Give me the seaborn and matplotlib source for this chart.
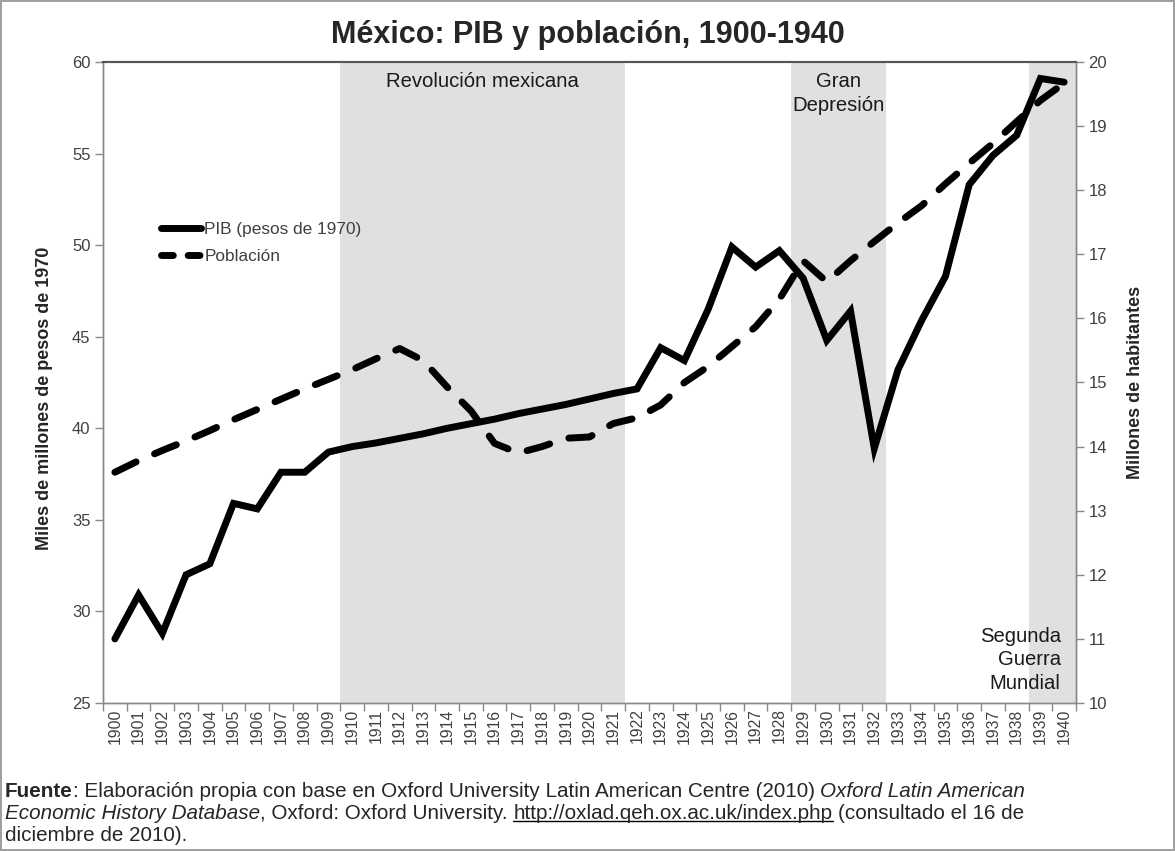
import numpy as np
import pandas as pd
import seaborn as sns
import matplotlib.pyplot as plt
from matplotlib.lines import Line2D
from matplotlib.transforms import IdentityTransform

# Datos
years = list(range(1900, 1941))
pib = [28.5, 30.9, 28.8, 32.0, 32.6, 35.9, 35.6, 37.6, 37.6, 38.7,
       39.0, 39.2, 39.45, 39.7, 40.0, 40.25, 40.5, 40.8, 41.05, 41.3,
       41.6, 41.9, 42.15, 44.4, 43.7, 46.5, 49.9, 48.8, 49.7, 48.2,
       44.8, 46.4, 38.9, 43.2, 45.9, 48.3, 53.3, 54.9, 56.0, 59.1, 58.9]
poblacion = [13.6, 13.78, 13.94, 14.09, 14.25, 14.42, 14.58, 14.74, 14.9, 15.05,
             15.2, 15.37, 15.53, 15.34, 14.93, 14.56, 14.05, 13.9, 14.0, 14.13,
             14.15, 14.36, 14.45, 14.65, 15.0, 15.25, 15.56, 15.87, 16.3, 16.9,
             16.57, 16.9, 17.2, 17.49, 17.76, 18.1, 18.42, 18.73, 19.07, 19.4, 19.67]
periodos = [("Revolución mexicana", 1910, 1921),
            ("Gran\nDepresión", 1929, 1932),
            ("Segunda\nGuerra\nMundial", 1939, 1940)]

df = pd.DataFrame({'year': years, 'pib': pib, 'pob': poblacion})

sns.set_style("white")
plt.rcParams['font.family'] = ['Liberation Sans', 'DejaVu Sans']

W, H = 1175, 851
fig = plt.figure(figsize=(W / 100, H / 100), dpi=100, edgecolor='#a0a0a0', linewidth=1.5)
ax = fig.add_axes([103 / W, 1 - 703 / H, 973 / W, 641 / H])
ax2 = ax.twinx()

# franjas de periodos
for nombre, ini, fin in periodos:
    ax.axvspan(ini - 0.5, fin + 0.5, color='#e0e0e0', lw=0, zorder=0)

sns.lineplot(data=df, x='year', y='pib', ax=ax, color='black', lw=5)
sns.lineplot(data=df, x='year', y='pob', ax=ax2, color='black', lw=5)
l1 = ax.lines[-1]
l1.set_solid_capstyle('round')
l1.set_solid_joinstyle('miter')
l2 = ax2.lines[-1]
l2.set_dashes((3.4, 2.9))
l2.set_dash_capstyle('round')
l2.set_dash_joinstyle('round')

ax.set_xlim(1899.5, 1940.5)
ax.set_ylim(25, 60)
ax2.set_ylim(10, 20)
ax.set_xticks(years)
ax.set_xticklabels([str(y) for y in years], rotation=90)
ax.set_xticks(np.arange(1899.5, 1941), minor=True)
ax.set_yticks(range(25, 61, 5))
ax2.set_yticks(range(10, 21))
ax.tick_params(axis='x', which='major', bottom=True, length=0, pad=4,
               labelsize=11.3, labelcolor='#404040')
ax.tick_params(axis='x', which='minor', bottom=True, length=6, width=1,
               color='#888888', direction='out')
ax.tick_params(axis='y', left=True, length=6, width=1, color='#888888', pad=3,
               labelsize=12, labelcolor='#404040')
ax2.tick_params(axis='y', right=True, length=6, width=1, color='#888888', pad=3,
                labelsize=12, labelcolor='#404040')
for a in (ax, ax2):
    for s in ['left', 'right', 'bottom']:
        a.spines[s].set_color('#888888')
        a.spines[s].set_linewidth(1)
    a.spines['top'].set_color('#555555')
    a.spines['top'].set_linewidth(1.5)

ax.set_xlabel('')
ax.set_ylabel('Miles de millones de pesos de 1970', fontweight='bold', fontsize=13)
ax.yaxis.set_label_coords((53 - 103) / 973, 0.476)
ax2.set_ylabel('Millones de habitantes', fontweight='bold', fontsize=13)
ax2.yaxis.set_label_coords((1127 - 103) / 973, 0.5)

# etiquetas de periodos
tr = ax.get_xaxis_transform()
for nombre, ini, fin in periodos[:2]:
    ax.annotate(nombre, xy=((ini + fin) / 2, 1), xycoords=tr, xytext=(0, -7),
                textcoords='offset points', ha='center', va='top', fontsize=14.6,
                color='#1a1a1a', linespacing=1.32)
ax.annotate(periodos[2][0], xy=(periodos[2][2] + 0.5, 0), xycoords=tr, xytext=(-11, 7),
            textcoords='offset points', ha='right', va='bottom', fontsize=14.6,
            color='#1a1a1a', linespacing=1.32)

# leyenda
h1 = Line2D([], [], color='black', lw=5, solid_capstyle='round')
h2 = Line2D([], [], color='black', lw=5, dashes=(1.7, 2.14), dash_capstyle='round')
ax2.legend([h1, h2], ['PIB (pesos de 1970)', 'Población'], loc='upper left',
           bbox_to_anchor=(0.06, 0.75), frameon=False, fontsize=12.4, handlelength=2.3,
           handletextpad=0.2, labelspacing=0.7, borderpad=0, borderaxespad=0,
           labelcolor='#404040')

fig.text(0.5, 1 - 43 / H, 'México: PIB y población, 1900-1940', ha='center',
         va='baseline', fontsize=22, fontweight='bold')

# nota de fuente con estilos mezclados
FS = 14.9
r = fig.canvas.get_renderer()


def ancho(s, **kw):
    t = fig.text(0, 0, s, fontsize=FS, **kw)
    w = t.get_window_extent(r).width
    t.remove()
    return w


def linea(partes, x, y):
    for s, est in partes:
        kw = {}
        if est == 'b':
            kw['fontweight'] = 'bold'
        if est == 'i':
            kw['fontstyle'] = 'italic'
        sp = ancho('x x', **kw) - ancho('xx', **kw)
        lead = len(s) - len(s.lstrip(' '))
        trail = len(s) - len(s.rstrip(' '))
        x += lead * sp
        t = fig.text(x, y, s.strip(' '), transform=IdentityTransform(), fontsize=FS,
                     va='baseline', **kw)
        bb = t.get_window_extent(r)
        if est == 'u':
            fig.add_artist(Line2D([bb.x0, bb.x1], [y - 2, y - 2],
                                  transform=IdentityTransform(), color='black', lw=1))
        x = bb.x1 + trail * sp


linea([("Fuente", 'b'),
       (": Elaboración propia con base en Oxford University Latin American Centre (2010) ", 'n'),
       ("Oxford Latin American", 'i')], 5, H - 797)
linea([("Economic History Database", 'i'), (", Oxford: Oxford University. ", 'n'),
       ("http://oxlad.qeh.ox.ac.uk/index.php", 'u'), (" (consultado el 16 de", 'n')], 5, H - 819)
linea([("diciembre de 2010).", 'n')], 5, H - 841)

fig.savefig('out.png', dpi=100)
